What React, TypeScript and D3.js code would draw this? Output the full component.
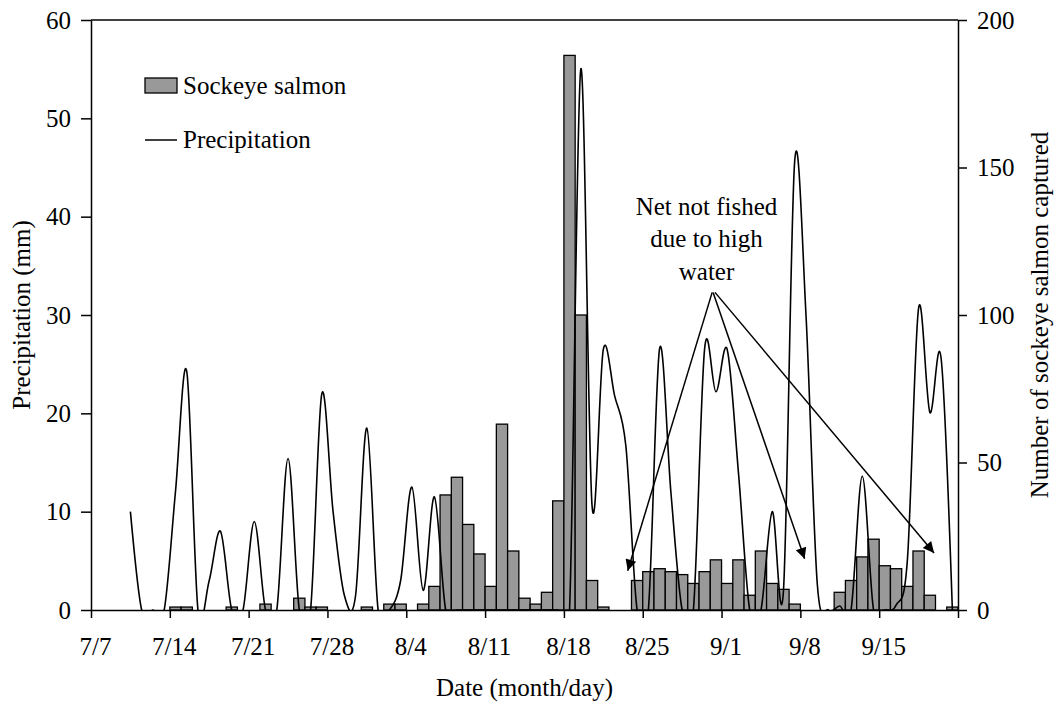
import React, { useEffect, useRef } from "react";
import * as d3 from "d3";

// daily counts starting 7/7
const salmonStart = "7/7";
const salmonCounts = [
  0, 0, 0, 0, 0, 0, 0, 1, 1, 0, 0, 0, 1, 0, 0, 2, 0, 0, 4, 1, 1, 0, 0, 0, 1, 0,
  2, 2, 0, 2, 8, 39, 45, 29, 19, 8, 63, 20, 4, 2, 6, 37, 188, 100, 10, 1, 0,
  0, 10, 13, 14, 13, 12, 9, 13, 17, 9, 17, 5, 20, 9, 7, 2, 0, 0, 0, 6, 10, 18,
  24, 15, 14, 8, 20, 5, 0, 1,
];

// daily precipitation (mm) starting 7/10
const precipStart = "7/10";
const precipitation = [
  10, 0, 0, 0, 12, 24.3, 0, 3, 8, 0, 0, 9, 0, 0, 15.4, 0, 0, 22, 10, 1.5, 1.5,
  18.5, 0, 0, 3, 12.5, 2, 11.5, 0, 0, 0, 0, 0, 0, 0, 0, 0, 0, 0, 0, 55, 10.6,
  26.5, 21.8, 16.7, 0, 0, 26.6, 12, 0, 0, 26.6, 22.2, 26.5, 14, 0, 0, 10, 2,
  45.7, 30, 2.7, 0, 0.4, 0, 13.6, 0, 0, 0.5, 5, 30.7, 20.1, 25.6, 0,
];

const dateTicks = ["7/7", "7/14", "7/21", "7/28", "8/4", "8/11", "8/18", "8/25", "9/1", "9/8", "9/15"];
const axisEnd = "9/22";
const precipTicks = [0, 10, 20, 30, 40, 50, 60];
const countTicks = [0, 50, 100, 150, 200];

// annotation: text anchor and arrow tips, in date / mm
const noteLines = ["Net not fished", "due to high", "water"];
const noteArrows = [
  { from: ["8/31", 32.3], fromH: 4, to: ["8/23", 4.0], toH: 16 },
  { from: ["8/31", 32.3], fromH: 6, to: ["9/8", 5.2], toH: 9 },
  { from: ["8/31", 32.3], fromH: 10, to: ["9/19", 5.8], toH: 21 },
];

const FONT = "'Times New Roman', 'Liberation Serif', serif";

const parse = (s: string) => {
  const [m, d] = s.split("/").map(Number);
  return new Date(Date.UTC(2000, m - 1, d));
};
const addHours = (date: Date, h: number) => new Date(date.getTime() + h * 3600e3);

export default function App() {
  const ref = useRef<SVGSVGElement>(null);

  useEffect(() => {
    const svg = d3.select(ref.current);
    svg.selectAll("*").remove();

    const width = 1062;
    const height = 706;
    const margin = { top: 20, right: 104, bottom: 96, left: 91 };
    const x0 = margin.left;
    const x1 = width - margin.right;
    const y0 = height - margin.bottom;
    const y1 = margin.top;

    const x = d3.scaleUtc().domain([parse(dateTicks[0]), parse(axisEnd)]).range([x0, x1]);
    const yP = d3.scaleLinear().domain([0, 60]).range([y0, y1]);
    const yC = d3.scaleLinear().domain([0, 200]).range([y0, y1]);

    const s0 = parse(salmonStart);
    const bars = salmonCounts.map((v, i) => ({ date: d3.utcDay.offset(s0, i), v }));
    const p0 = parse(precipStart);
    const rain = precipitation.map((v, i) => ({ date: addHours(d3.utcDay.offset(p0, i), 12), v }));

    const defs = svg.append("defs");
    defs
      .append("clipPath")
      .attr("id", "plotClip")
      .append("rect")
      .attr("x", x0)
      .attr("y", y1)
      .attr("width", x1 - x0)
      .attr("height", y0 - y1);

    const marker = defs
      .append("marker")
      .attr("id", "arrowHead")
      .attr("viewBox", "0 0 10 10")
      .attr("refX", 10)
      .attr("refY", 5)
      .attr("markerWidth", 15)
      .attr("markerHeight", 11)
      .attr("markerUnits", "userSpaceOnUse")
      .attr("orient", "auto");
    marker.append("path").attr("d", "M0,0L10,5L0,10Z").attr("fill", "#000");

    // bars
    svg
      .append("g")
      .selectAll("rect")
      .data(bars.filter((d) => d.v > 0))
      .enter()
      .append("rect")
      .attr("x", (d) => x(d.date))
      .attr("width", (d) => x(d3.utcDay.offset(d.date, 1)) - x(d.date))
      .attr("y", (d) => yC(d.v))
      .attr("height", (d) => yC(0) - yC(d.v))
      .attr("fill", "#999999")
      .attr("stroke", "#000")
      .attr("stroke-width", 1.3);

    // precipitation line
    const line = d3
      .line<{ date: Date; v: number }>()
      .x((d) => x(d.date))
      .y((d) => yP(d.v))
      .curve(d3.curveCardinal.tension(0));

    svg
      .append("path")
      .datum(rain)
      .attr("clip-path", "url(#plotClip)")
      .attr("d", line)
      .attr("fill", "none")
      .attr("stroke", "#000")
      .attr("stroke-width", 1.6);

    // axes
    const tickDates = [...dateTicks, axisEnd].map(parse);
    const gx = svg
      .append("g")
      .attr("transform", `translate(0,${y0})`)
      .call(
        d3
          .axisBottom(x)
          .tickValues(tickDates)
          .tickSize(8)
          .tickSizeOuter(0)
          .tickPadding(19)
          .tickFormat((d, i) => (i < dateTicks.length ? dateTicks[i] : ""))
      );
    gx.selectAll("text").attr("dx", 4);

    const gl = svg
      .append("g")
      .attr("transform", `translate(${x0},0)`)
      .call(d3.axisLeft(yP).tickValues(precipTicks).tickSize(10).tickSizeOuter(0).tickPadding(10));

    const gr = svg
      .append("g")
      .attr("transform", `translate(${x1},0)`)
      .call(d3.axisRight(yC).tickValues(countTicks).tickSize(9).tickSizeOuter(0).tickPadding(10));

    [gx, gl, gr].forEach((g) => {
      g.selectAll("path, line").attr("stroke", "#000").attr("stroke-width", 1.5);
      g.selectAll("text")
        .attr("fill", "#000")
        .style("font-family", FONT)
        .style("font-size", "25px");
    });

    svg
      .append("line")
      .attr("x1", x0)
      .attr("x2", x1)
      .attr("y1", y1)
      .attr("y2", y1)
      .attr("stroke", "#000")
      .attr("stroke-width", 1.5);

    // titles
    const title = (sel) =>
      sel.attr("fill", "#000").style("font-family", FONT).style("font-size", "25px").attr("text-anchor", "middle");

    svg
      .append("text")
      .attr("x", (x0 + x1) / 2)
      .attr("y", 696)
      .text("Date (month/day)")
      .call(title);

    svg
      .append("text")
      .attr("transform", `translate(30,${(y0 + y1) / 2}) rotate(-90)`)
      .text("Precipitation (mm)")
      .call(title);

    svg
      .append("text")
      .attr("transform", `translate(1048,${(y0 + y1) / 2}) rotate(-90)`)
      .text("Number of sockeye salmon captured")
      .call(title);

    // legend
    const lg = svg.append("g");
    lg.append("rect")
      .attr("x", 145)
      .attr("y", 78)
      .attr("width", 32)
      .attr("height", 15)
      .attr("fill", "#999999")
      .attr("stroke", "#000")
      .attr("stroke-width", 1.3);
    lg.append("text").attr("x", 183).attr("y", 94).text("Sockeye salmon").call(title).attr("text-anchor", "start");
    lg.append("line")
      .attr("x1", 145)
      .attr("x2", 177)
      .attr("y1", 140)
      .attr("y2", 140)
      .attr("stroke", "#000")
      .attr("stroke-width", 1.5);
    lg.append("text").attr("x", 183).attr("y", 148).text("Precipitation").call(title).attr("text-anchor", "start");

    // annotation
    const note = svg.append("text").call(title);
    noteLines.forEach((t, i) => {
      note
        .append("tspan")
        .attr("x", x(addHours(parse("8/30"), 16)))
        .attr("y", yP(40.2) + i * 32.5)
        .text(t);
    });

    svg
      .append("g")
      .selectAll("line")
      .data(noteArrows)
      .enter()
      .append("line")
      .attr("x1", (d) => x(addHours(parse(d.from[0] as string), d.fromH)))
      .attr("y1", (d) => yP(d.from[1] as number))
      .attr("x2", (d) => x(addHours(parse(d.to[0] as string), d.toH)))
      .attr("y2", (d) => yP(d.to[1] as number))
      .attr("stroke", "#000")
      .attr("stroke-width", 1.5)
      .attr("marker-end", "url(#arrowHead)");
  }, []);

  return (
    <svg
      ref={ref}
      width={1062}
      height={706}
      style={{ position: "absolute", left: 0, top: 0, background: "#fff" }}
    />
  );
}
